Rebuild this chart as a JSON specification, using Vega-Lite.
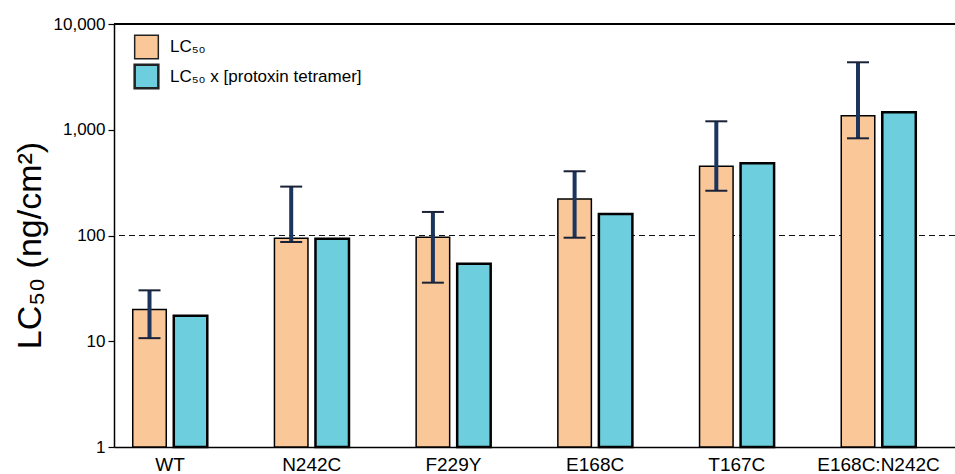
{
  "$schema": "https://vega.github.io/schema/vega-lite/v6.json",
  "width": 841,
  "height": 423,
  "autosize": {"type": "none"},
  "padding": {"left": 114, "top": 24, "right": 0, "bottom": 27},
  "config": {
    "font": "Liberation Sans",
    "view": {"stroke": null},
    "axis": {"grid": false, "domainColor": "#000000", "tickColor": "#000000", "labelColor": "#000000", "titleColor": "#000000", "labelFont": "Liberation Sans", "titleFont": "Liberation Sans"},
    "legend": {"labelFont": "Liberation Sans"}
  },
  "data": {
    "values": [
      {"mutant": "WT", "series": "LC₅₀", "value": 20, "lo": 10.7, "hi": 30.3},
      {"mutant": "WT", "series": "LC₅₀ x [protoxin tetramer]", "value": 17.4},
      {"mutant": "N242C", "series": "LC₅₀", "value": 94, "lo": 86.8, "hi": 290},
      {"mutant": "N242C", "series": "LC₅₀ x [protoxin tetramer]", "value": 93.3},
      {"mutant": "F229Y", "series": "LC₅₀", "value": 96, "lo": 35.8, "hi": 167},
      {"mutant": "F229Y", "series": "LC₅₀ x [protoxin tetramer]", "value": 54},
      {"mutant": "E168C", "series": "LC₅₀", "value": 221, "lo": 95.3, "hi": 405},
      {"mutant": "E168C", "series": "LC₅₀ x [protoxin tetramer]", "value": 160},
      {"mutant": "T167C", "series": "LC₅₀", "value": 451, "lo": 265, "hi": 1202},
      {"mutant": "T167C", "series": "LC₅₀ x [protoxin tetramer]", "value": 482},
      {"mutant": "E168C:N242C", "series": "LC₅₀", "value": 1358, "lo": 830, "hi": 4345},
      {"mutant": "E168C:N242C", "series": "LC₅₀ x [protoxin tetramer]", "value": 1463}
    ]
  },
  "layer": [
    {
      "mark": {"type": "rule", "strokeDash": [6, 4], "strokeWidth": 1.2, "color": "#111111"},
      "encoding": {"y": {"datum": 100, "type": "quantitative"}}
    },
    {
      "mark": {"type": "rule", "strokeWidth": 1.5, "color": "#000000"},
      "encoding": {"y": {"datum": 10000, "type": "quantitative"}}
    },
    {
      "mark": {"type": "bar", "stroke": "#000000", "opacity": 1, "fillOpacity": 1},
      "encoding": {
        "x": {
          "field": "mutant", "type": "nominal", "sort": null,
          "scale": {"paddingInner": 0.474, "paddingOuter": 0.2045, "align": 0.3235},
          "axis": {"title": null, "labelAngle": 0, "ticks": false, "labelPadding": 8, "labelFontSize": 19, "domainWidth": 1.5}
        },
        "xOffset": {"field": "series", "type": "nominal", "scale": {"domain": ["LC₅₀", "LC₅₀ x [protoxin tetramer]"], "paddingInner": 0.183, "paddingOuter": 0}},
        "y": {
          "field": "value", "type": "quantitative", "stack": null,
          "scale": {"type": "log", "domain": [1, 10000], "nice": false},
          "axis": {"title": "LC₅₀  (ng/cm²)", "titleFontSize": 34, "titleFontWeight": "normal", "titlePadding": 6, "titleY": 221, "values": [1, 10, 100, 1000, 10000], "format": ",", "labelFontSize": 17, "tickSize": 6, "domainWidth": 1.5, "tickWidth": 1.2, "labelPadding": 3}
        },
        "color": {
          "field": "series", "type": "nominal",
          "scale": {"domain": ["LC₅₀", "LC₅₀ x [protoxin tetramer]"], "range": ["#FAC898", "#6DCEDE"]},
          "legend": {"title": null, "orient": "none", "legendX": 19, "legendY": 10, "symbolType": "square", "symbolSize": 560, "symbolStrokeColor": "#222222", "symbolStrokeWidth": 1.5, "symbolOpacity": 1, "labelFontSize": 17, "labelOffset": 10, "labelLimit": 0, "rowPadding": -3, "labelColor": "#000000"}
        },
        "strokeWidth": {
          "field": "series", "type": "nominal",
          "scale": {"domain": ["LC₅₀", "LC₅₀ x [protoxin tetramer]"], "range": [1.5, 2.5]},
          "legend": null
        }
      }
    },
    {
      "transform": [{"filter": "datum.lo != null"}],
      "mark": {"type": "rule", "strokeWidth": 4, "color": "#1C355E"},
      "encoding": {
        "x": {"field": "mutant", "type": "nominal", "sort": null},
        "xOffset": {"field": "series", "type": "nominal", "scale": {"domain": ["LC₅₀", "LC₅₀ x [protoxin tetramer]"]}},
        "y": {"field": "lo", "type": "quantitative"},
        "y2": {"field": "hi"}
      }
    },
    {
      "transform": [{"filter": "datum.lo != null"}],
      "mark": {"type": "tick", "size": 22, "thickness": 2, "color": "#1a2238", "opacity": 1},
      "encoding": {
        "x": {"field": "mutant", "type": "nominal", "sort": null},
        "xOffset": {"field": "series", "type": "nominal", "scale": {"domain": ["LC₅₀", "LC₅₀ x [protoxin tetramer]"]}},
        "y": {"field": "lo", "type": "quantitative"}
      }
    },
    {
      "transform": [{"filter": "datum.lo != null"}],
      "mark": {"type": "tick", "size": 22, "thickness": 2, "color": "#1a2238", "opacity": 1},
      "encoding": {
        "x": {"field": "mutant", "type": "nominal", "sort": null},
        "xOffset": {"field": "series", "type": "nominal", "scale": {"domain": ["LC₅₀", "LC₅₀ x [protoxin tetramer]"]}},
        "y": {"field": "hi", "type": "quantitative"}
      }
    }
  ]
}
